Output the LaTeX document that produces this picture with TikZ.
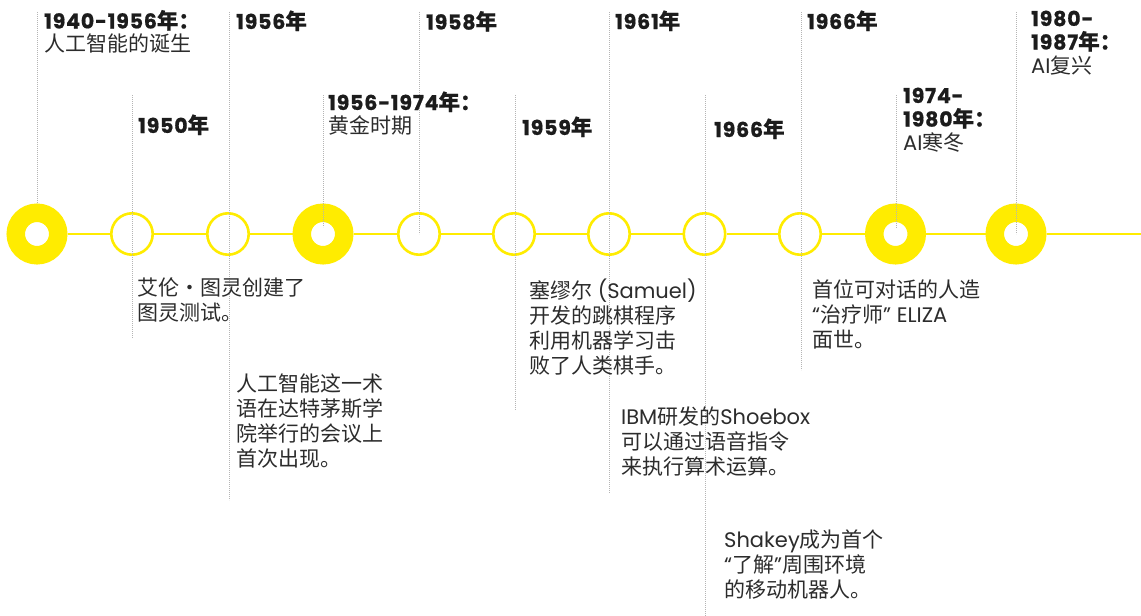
\documentclass[tikz,border=0pt]{standalone}
\usepackage{fontspec}
\setmainfont{Noto Sans CJK SC}[BoldFeatures={FakeBold=0.6}]
\newfontfamily\pop{Poppins}[BoldFeatures={FakeBold=0.7,LetterSpace=4}]
\definecolor{ylw}{HTML}{FFEC00}
\definecolor{txt}{HTML}{2C2C2C}
\definecolor{yrc}{HTML}{1C1C1C}
\definecolor{dotc}{HTML}{B4B4B4}
\newcommand\lat[1]{{\pop #1}}
\newcommand\yrline[2]{{\pop\bfseries\fontsize{20.5}{23}\selectfont #1}{\bfseries\fontsize{21.5}{23}\selectfont #2}}
\newcommand\subl[1]{{\color{txt}\fontsize{21}{25}\selectfont #1}}
\newcommand\mlines[2]{\vtop{\baselineskip=#1\lineskiplimit=-\maxdimen\lineskip=0pt\halign{##\hfil\cr#2\crcr}}}
\begin{document}
\begin{tikzpicture}[x=1pt,y=-1pt,
  smallc/.style={circle, draw=ylw, line width=2.6pt, minimum size=41.4pt, inner sep=0pt},
  bigc/.style={circle, draw=ylw, line width=18.5pt, minimum size=42.5pt, inner sep=0pt},
  tline/.style={draw=ylw, line width=2.6pt},
  dotl/.style={draw=dotc, line width=0.8pt, dash pattern=on 0.8pt off 1.2pt},
  lbl/.style={anchor=base west, inner sep=0pt, text=yrc},
  desc/.style={anchor=base west, inner sep=0pt, text=txt, font=\fontsize{21}{25}\selectfont}]
\useasboundingbox (0,0) rectangle (1141,616);
\fill[white] (0,0) rectangle (1141,616);
% circles
\node[bigc]   (r1)  at (37,234) {};
\node[smallc] (c2)  at (132,234) {};
\node[smallc] (c3)  at (228,234) {};
\node[bigc]   (r4)  at (323,234) {};
\node[smallc] (c5)  at (419,234) {};
\node[smallc] (c6)  at (514,234) {};
\node[smallc] (c7)  at (609,234) {};
\node[smallc] (c8)  at (704.5,234) {};
\node[smallc] (c9)  at (800,234) {};
\node[bigc]   (r10) at (895.5,234) {};
\node[bigc]   (r11) at (1016,234) {};
\coordinate (tlend) at (1141,234);
\draw[tline] (r1) -- (c2) -- (c3) -- (r4) -- (c5) -- (c6) -- (c7) -- (c8) -- (c9) -- (r10) -- (r11) -- (tlend);
% dotted guide lines
\foreach \x/\a/\b [count=\i] in {37/12/204, 132/95/338, 229/12/500, 323/95/227, 419/12/234, 515/95/410, 609/12/493, 705.5/95/616, 801/12/370, 896/95/228, 1016/12/234}{
  \coordinate (gt\i) at (\x,\a);
  \coordinate (gb\i) at (\x,\b);
  \draw[dotl] (gt\i) -- (gb\i);
}
% year labels
\node[lbl] (y1) at (44,28.5) {\mlines{23pt}{\yrline{1940-1956}{年：}\cr\subl{人工智能的诞生}}};
\node[lbl] (y2) at (138,133) {\yrline{1950}{年}};
\node[lbl] (y3) at (236,29) {\yrline{1956}{年}};
\node[lbl] (y4) at (328,110) {\mlines{23pt}{\yrline{1956-1974}{年：}\cr\subl{黄金时期}}};
\node[lbl] (y5) at (426,29.5) {\yrline{1958}{年}};
\node[lbl] (y6) at (522,135) {\yrline{1959}{年}};
\node[lbl] (y7) at (615,29) {\yrline{1961}{年}};
\node[lbl] (y8) at (714,137) {\yrline{1966}{年}};
\node[lbl] (y9) at (807,29) {\yrline{1966}{年}};
\node[lbl] (y10) at (903,103) {\mlines{23.5pt}{\yrline{1974-}{}\cr\yrline{1980}{年：}\cr\subl{\lat{AI}寒冬}}};
\node[lbl] (y11) at (1031,26) {\mlines{23.5pt}{\yrline{1980-}{}\cr\yrline{1987}{年：}\cr\subl{\lat{AI}复兴}}};
% descriptions
\node[desc] (d1) at (137,295) {\mlines{25pt}{艾伦・图灵创建了\cr 图灵测试。}};
\node[desc] (d2) at (236,391) {\mlines{25pt}{人工智能这一术\cr 语在达特茅斯学\cr 院举行的会议上\cr 首次出现。}};
\node[desc] (d3) at (529,298) {\mlines{25pt}{塞缪尔\lat{ (Samuel)}\cr 开发的跳棋程序\cr 利用机器学习击\cr 败了人类棋手。}};
\node[desc] (d4) at (621,424) {\mlines{25pt}{\lat{IBM}研发的\lat{Shoebox}\cr 可以通过语音指令\cr 来执行算术运算。}};
\node[desc] (d5) at (812,297) {\mlines{25pt}{首位可对话的人造\cr \lat{“}治疗师\lat{” ELIZA}\cr 面世。}};
\node[desc] (d6) at (724,547) {\mlines{25pt}{\lat{Shakey}成为首个\cr \lat{“}了解\lat{”}周围环境\cr 的移动机器人。}};
\end{tikzpicture}
\end{document}
